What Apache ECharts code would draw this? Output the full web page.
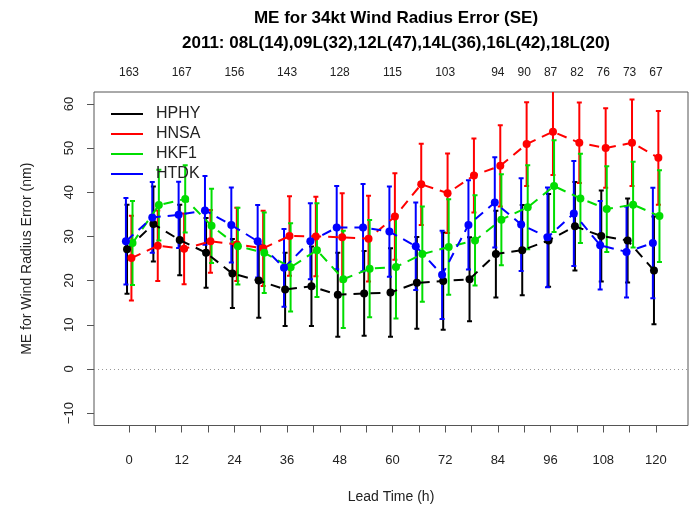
<!DOCTYPE html>
<html>
<head>
<meta charset="utf-8">
<script src="https://cdn.jsdelivr.net/npm/echarts@6/dist/echarts.min.js"></script>
<style>
html,body{margin:0;padding:0;background:#fff;}
#chart{width:689px;height:511px;}
</style>
</head>
<body>
<div id="chart"></div>
<script>
// ---- data ----
var leadTimes = [0,6,12,18,24,30,36,42,48,54,60,66,72,78,84,90,96,102,108,114,120];
var xTickLabels = [0,12,24,36,48,60,72,84,96,108,120];
var yTickLabels = [-10,0,10,20,30,40,50,60];
var countLeads = [0,12,24,36,48,60,72,84,90,96,102,108,114,120];
var caseCounts = [163,167,156,143,128,115,103,94,90,87,82,76,73,67];

var hphyMean = [27.1,32.8,29.2,26.3,21.6,20.0,18.0,18.7,16.8,17.1,17.3,19.5,19.9,20.3,26.0,26.9,29.1,32.3,30.1,29.1,22.3];
var hphyErr  = [10.1,8.5,8.0,7.9,7.8,8.4,8.3,9.0,9.5,9.6,10.0,10.4,11.0,9.5,9.8,10.2,10.5,10.0,10.3,9.5,12.2];

var hnsaMean = [25.1,27.9,27.2,28.9,28.2,27.3,30.1,30.0,29.8,29.5,34.5,41.8,39.8,43.8,46.0,50.9,53.7,51.2,50.0,51.2,47.8];
var hnsaErr  = [9.6,8.0,8.0,7.1,8.3,8.5,9.0,9.0,10.0,9.7,9.8,9.2,9.0,8.4,9.2,9.5,9.8,9.1,9.0,9.8,10.6];

var hkf1Mean = [28.5,37.1,38.5,32.4,27.8,26.3,23.0,26.9,20.3,22.7,23.1,26.0,27.6,29.1,33.8,36.6,41.4,38.6,36.2,37.2,34.6];
var hkf1Err  = [9.5,8.0,7.6,8.4,8.7,9.1,10.0,10.6,11.0,11.0,11.7,10.8,10.8,10.2,10.3,9.5,10.4,10.1,9.7,9.7,10.4];

var htdkMean = [28.9,34.3,34.9,35.9,32.6,28.9,22.9,28.9,32.0,32.0,31.1,27.8,21.3,32.6,37.7,32.7,29.8,35.2,28.0,26.5,28.5];
var htdkErr  = [9.8,8.0,7.5,7.8,8.5,8.2,8.8,8.6,9.4,9.9,10.2,9.9,10.0,10.1,10.2,10.5,11.3,11.9,10.0,10.3,12.5];

var models = [
  {name:'HPHY', mean:hphyMean, err:hphyErr, color:'#000000', dx:-0.45},
  {name:'HNSA', mean:hnsaMean, err:hnsaErr, color:'#FF0000', dx:0.55},
  {name:'HKF1', mean:hkf1Mean, err:hkf1Err, color:'#00DD00', dx:0.8},
  {name:'HTDK', mean:htdkMean, err:htdkErr, color:'#0000FF', dx:-0.7}
];

var FONT = 'Liberation Sans, Arial, Helvetica, sans-serif';
var chart = echarts.init(document.getElementById('chart'), null, {renderer:'canvas'});

var series = [];
models.forEach(function(m){
  var lineData = leadTimes.map(function(t,i){ return [t + m.dx, m.mean[i]]; });
  var barData = leadTimes.map(function(t,i){ return [t + m.dx, m.mean[i] - m.err[i], m.mean[i] + m.err[i]]; });
  series.push({
    type:'custom', name:m.name+'_err', clip:true, silent:true, z:2,
    data:barData,
    renderItem:function(params, api){
      var x = api.value(0), lo = api.value(1), hi = api.value(2);
      var pTop = api.coord([x, hi]), pBot = api.coord([x, lo]);
      var st = {stroke:m.color, lineWidth:2};
      var cw = 2.5;
      return {type:'group', children:[
        {type:'line', shape:{x1:pTop[0],y1:pTop[1],x2:pBot[0],y2:pBot[1]}, style:st},
        {type:'line', shape:{x1:pTop[0]-cw,y1:pTop[1],x2:pTop[0]+cw,y2:pTop[1]}, style:st},
        {type:'line', shape:{x1:pBot[0]-cw,y1:pBot[1],x2:pBot[0]+cw,y2:pBot[1]}, style:st}
      ]};
    }
  });
  series.push({
    type:'line', name:m.name, data:lineData, z:3,
    symbol:'circle', symbolSize:8, showSymbol:true,
    itemStyle:{color:m.color},
    lineStyle:{color:m.color, width:2, type:[10,7]},
    emphasis:{disabled:true}, animation:false
  });
});

// zero reference line
series.push({
  type:'line', data:[], silent:true,
  markLine:{symbol:'none', silent:true, label:{show:false},
    lineStyle:{color:'#999', type:[1,3], width:1},
    data:[{yAxis:0}]}
});

var countMap = {};
countLeads.forEach(function(t,i){ countMap[t] = caseCounts[i]; });

chart.setOption({
  animation:false,
  backgroundColor:'#fff',
  title:[
    {text:'ME for 34kt Wind Radius Error (SE)', left:391, top:5, textAlign:'center',
     textStyle:{fontFamily:FONT, fontSize:17, fontWeight:'bold', color:'#000'}},
    {text:'2011: 08L(14),09L(32),12L(47),14L(36),16L(42),18L(20)', left:391, top:30, textAlign:'center',
     textStyle:{fontFamily:FONT, fontSize:17, fontWeight:'bold', color:'#000'}}
  ],
  legend:{
    left:106, top:101, orient:'vertical', itemGap:4, itemWidth:32, itemHeight:16,
    icon:'path://M0,7 L32,7 L32,9 L0,9 Z',
    data:models.map(function(m){return {name:m.name, itemStyle:{color:m.color}};}),
    textStyle:{fontFamily:FONT, fontSize:16, lineHeight:16, color:'#222', padding:[0,0,0,8]},
    selectedMode:false
  },
  grid:{left:94, right:1, top:92, bottom:85.5, show:true, borderColor:'#555', borderWidth:1, backgroundColor:'transparent'},
  xAxis:[
    {type:'value', min:-7.97, max:127.3, position:'bottom',
     name:'Lead Time (h)', nameLocation:'middle', nameGap:65,
     nameTextStyle:{fontFamily:FONT, fontSize:14, color:'#222'},
     axisLine:{show:false, onZero:false}, splitLine:{show:false},
     axisTick:{show:true, length:7, lineStyle:{color:'#555'}, customValues:leadTimes},
     axisLabel:{fontFamily:FONT, fontSize:13, color:'#222', margin:28, customValues:xTickLabels}},
    {type:'value', min:-7.97, max:127.3, position:'top',
     axisLine:{show:false, onZero:false}, splitLine:{show:false}, axisTick:{show:false},
     axisLabel:{fontFamily:FONT, fontSize:12, color:'#222', margin:13, customValues:countLeads,
       formatter:function(v){ return countMap[v] !== undefined ? String(countMap[v]) : ''; }}}
  ],
  yAxis:{type:'value', min:-12.8, max:62.7,
    name:'ME for Wind Radius Error (nm)', nameLocation:'middle', nameGap:60, nameRotate:90,
    nameTextStyle:{fontFamily:FONT, fontSize:14, color:'#222'},
    axisLine:{show:false, onZero:false}, splitLine:{show:false},
    axisTick:{show:true, length:7, lineStyle:{color:'#555'}, customValues:yTickLabels},
    axisLabel:{fontFamily:FONT, fontSize:13, color:'#222', rotate:90, margin:18, customValues:yTickLabels,
      formatter:function(v){ return v < 0 ? '\u2212' + Math.abs(v) : String(v); }}
  },
  series:series
});
</script>
</body>
</html>
